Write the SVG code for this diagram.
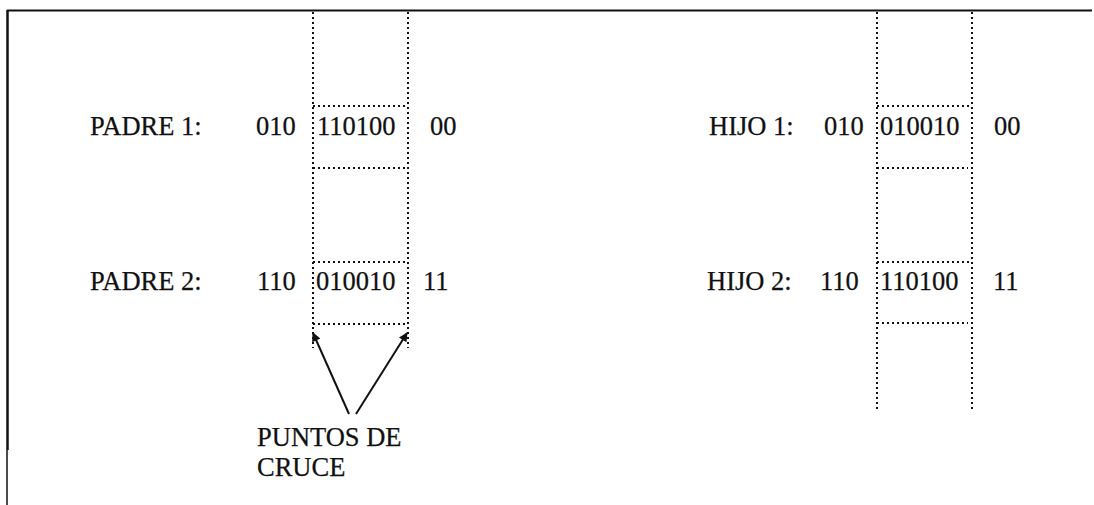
<svg xmlns="http://www.w3.org/2000/svg" width="1094" height="505" viewBox="0 0 1094 505">
  <style>
    .t { font-family: "Liberation Serif", "Times New Roman", serif; font-size: 26.5px; fill: #111; stroke: #111; stroke-width: 0.25; }
    .frame { stroke: #111; fill: none; }
    .dot { stroke: #111; stroke-width: 2; fill: none; stroke-dasharray: 2 3; }
    .arrow { stroke: #111; stroke-width: 2; fill: none; marker-end: url(#head); }
  </style>
  <defs>
    <marker id="head" viewBox="0 0 10 10" refX="9" refY="5" markerWidth="11" markerHeight="9" markerUnits="userSpaceOnUse" orient="auto">
      <path d="M0,0 L10,5 L0,10 Z" fill="#111"/>
    </marker>
  </defs>
  <rect width="1094" height="505" fill="#fff"/>

  <!-- outer frame: top edge and left edge -->
  <g id="frame">
    <line class="frame" x1="7" y1="10.5" x2="1092" y2="10.5" stroke-width="2"/>
    <line class="frame" x1="7.5" y1="10" x2="7.5" y2="450" stroke-width="2.5"/>
    <line class="frame" x1="7" y1="450" x2="7" y2="505" stroke-width="1.5"/>
  </g>

  <!-- parent chromosomes with crossover segment boxes -->
  <g id="padres">
    <line class="dot" x1="313" y1="12" x2="313" y2="348"/>
    <line class="dot" x1="408" y1="12" x2="408" y2="348"/>
    <line class="dot" x1="313" y1="106" x2="408" y2="106"/>
    <line class="dot" x1="313" y1="168" x2="408" y2="168"/>
    <line class="dot" x1="313" y1="262" x2="408" y2="262"/>
    <line class="dot" x1="313" y1="324" x2="408" y2="324"/>
  </g>
  <g id="padre1">
    <text class="t" x="90" y="135">PADRE 1:</text>
    <text class="t" x="256" y="135">010</text>
    <text class="t" x="317" y="135">110100</text>
    <text class="t" x="430" y="135">00</text>
  </g>
  <g id="padre2">
    <text class="t" x="90" y="290">PADRE 2:</text>
    <text class="t" x="257" y="290">110</text>
    <text class="t" x="316" y="290">010010</text>
    <text class="t" x="423" y="290">11</text>
  </g>

  <!-- offspring chromosomes -->
  <g id="hijos">
    <line class="dot" x1="877" y1="12" x2="877" y2="410"/>
    <line class="dot" x1="972" y1="12" x2="972" y2="410"/>
    <line class="dot" x1="877" y1="106" x2="972" y2="106"/>
    <line class="dot" x1="877" y1="168" x2="968" y2="168"/>
    <line class="dot" x1="877" y1="262" x2="972" y2="262"/>
    <line class="dot" x1="877" y1="323" x2="968" y2="323"/>
  </g>
  <g id="hijo1">
    <text class="t" x="709" y="135">HIJO 1:</text>
    <text class="t" x="824" y="135">010</text>
    <text class="t" x="880" y="135">010010</text>
    <text class="t" x="994" y="135">00</text>
  </g>
  <g id="hijo2">
    <text class="t" x="707" y="290">HIJO 2:</text>
    <text class="t" x="820" y="290">110</text>
    <text class="t" x="880" y="290">110100</text>
    <text class="t" x="993" y="290">11</text>
  </g>

  <!-- crossover point label and arrows -->
  <g id="connectors">
    <line class="arrow" x1="349" y1="414" x2="313" y2="333"/>
    <line class="arrow" x1="356" y1="414" x2="407" y2="333"/>
  </g>
  <g id="cruce">
    <text class="t" x="257" y="446">PUNTOS DE</text>
    <text class="t" x="257" y="476">CRUCE</text>
  </g>
</svg>
